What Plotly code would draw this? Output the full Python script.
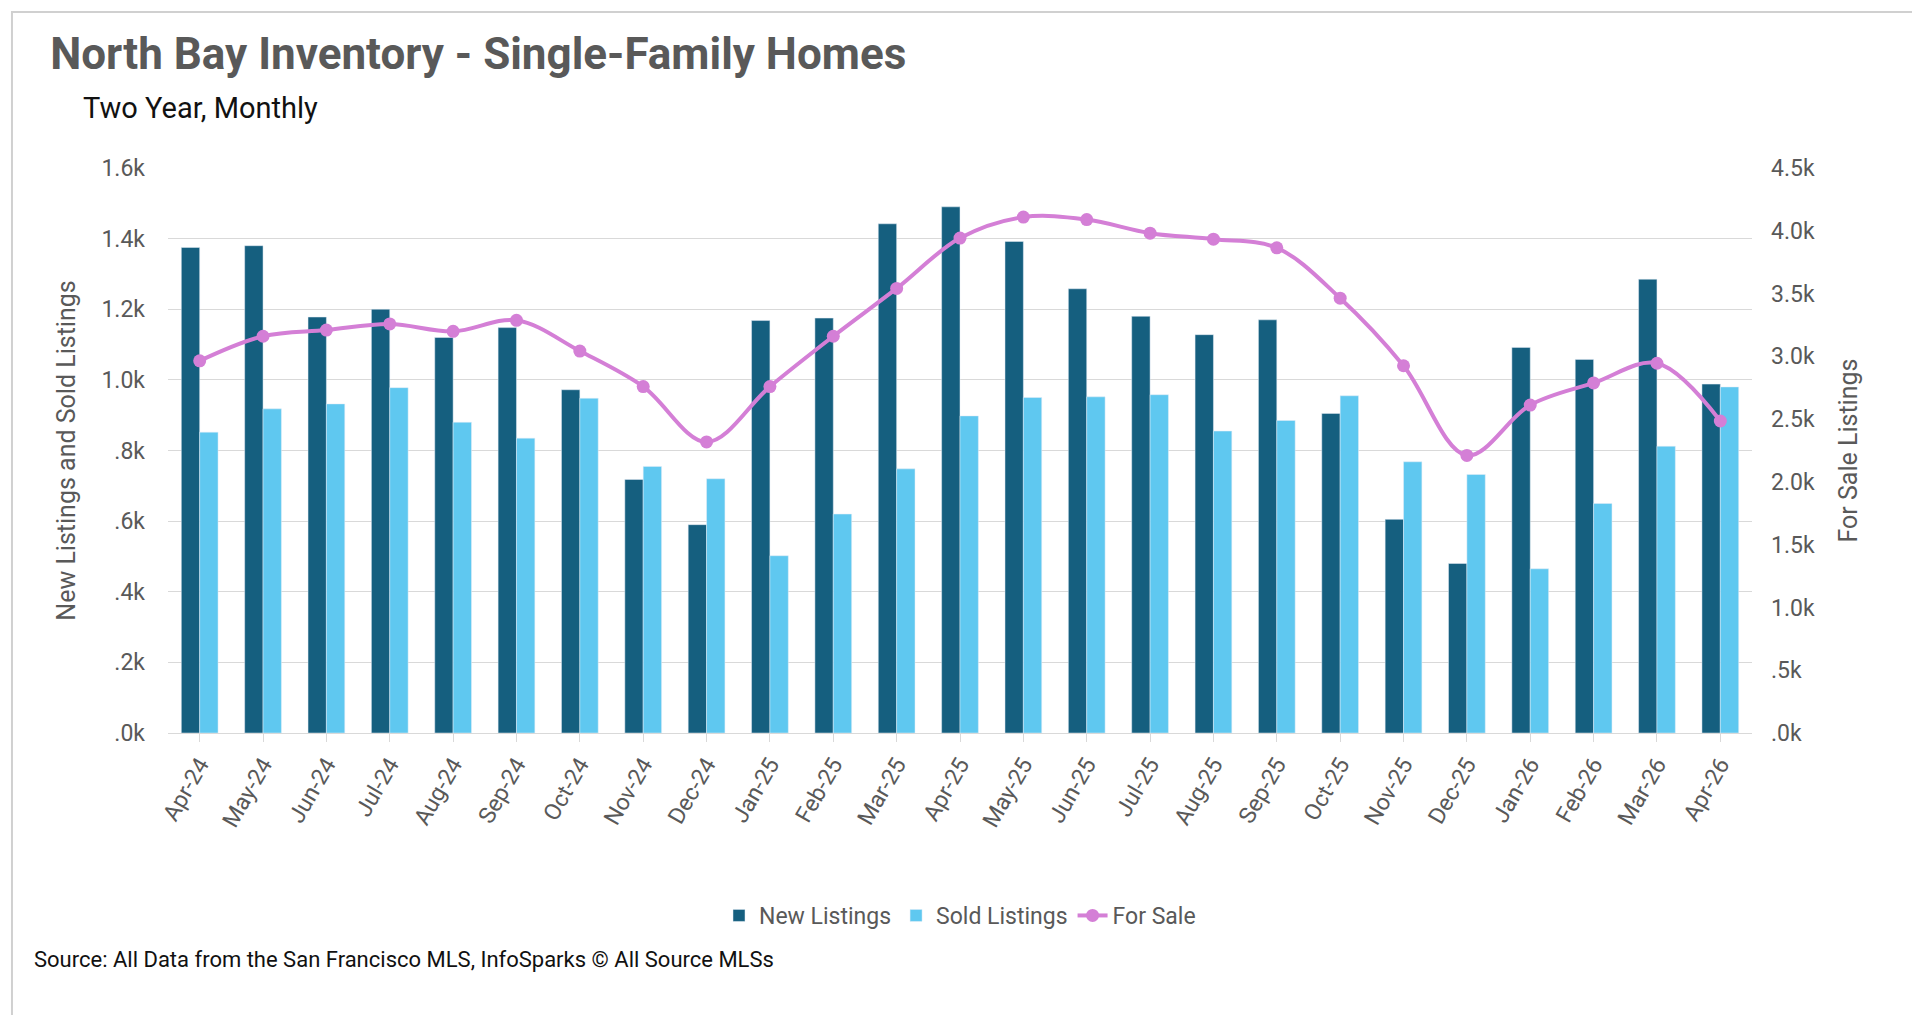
import plotly.graph_objects as go

months = ["Apr-24","May-24","Jun-24","Jul-24","Aug-24","Sep-24","Oct-24","Nov-24","Dec-24",
          "Jan-25","Feb-25","Mar-25","Apr-25","May-25","Jun-25","Jul-25","Aug-25","Sep-25",
          "Oct-25","Nov-25","Dec-25","Jan-26","Feb-26","Mar-26","Apr-26"]
new_listings = [1375,1380,1178,1200,1120,1148,972,718,590,1168,1175,1442,1490,1392,1258,1180,1128,1170,905,605,480,1092,1058,1285,988]
sold_listings = [852,918,932,978,880,835,948,755,720,502,620,748,898,950,952,958,855,885,955,768,732,465,650,812,980]
for_sale = [2964,3160,3209,3258,3199,3287,3042,2759,2318,2759,3160,3541,3942,4109,4089,3981,3933,3864,3463,2925,2211,2612,2788,2945,2485]
left_ticks = [0,200,400,600,800,1000,1200,1400,1600]
left_text = [".0k",".2k",".4k",".6k",".8k","1.0k","1.2k","1.4k","1.6k"]
right_ticks = [0,500,1000,1500,2000,2500,3000,3500,4000,4500]
right_text = [".0k",".5k","1.0k","1.5k","2.0k","2.5k","3.0k","3.5k","4.0k","4.5k"]

fig = go.Figure()
fig.add_bar(x=months, y=new_listings, name="New Listings", marker_color="#155f7f")
fig.add_bar(x=months, y=sold_listings, name="Sold Listings", marker_color="#5fc8f0")
fig.add_scatter(x=months, y=for_sale, name="For Sale", yaxis="y2", mode="lines+markers",
                line=dict(color="#d47fd6", width=4, shape="spline"), marker=dict(size=13, color="#d47fd6"))

font = "Roboto"
fig.update_layout(
    width=1920, height=1015, paper_bgcolor="white", plot_bgcolor="white",
    font=dict(family=font, color="#595959", size=22),
    margin=dict(l=160, r=176, t=160, b=290, autoexpand=False),
    bargap=0.42, bargroupgap=0,
    title=dict(text="<b>North Bay Inventory - Single-Family Homes</b>", x=0.022, xanchor="left",
               y=0.955, yanchor="middle", font=dict(size=44, color="#595959")),
    xaxis=dict(range=[-0.5, len(months)-0.5], tickangle=-60, tickfont=dict(size=23), showline=True,
               linecolor="#d9d9d9", ticks="outside", tickcolor="#d9d9d9", ticklen=8, automargin=False),
    yaxis=dict(range=[0,1600], tickvals=left_ticks, ticktext=left_text, gridcolor="#d9d9d9", automargin=False,
               ticklabelstandoff=22, tickfont=dict(size=23),
               title=dict(text="New Listings and Sold Listings", font=dict(size=25), standoff=18), zeroline=False),
    yaxis2=dict(range=[0,4500], tickvals=right_ticks, ticktext=right_text, overlaying="y", side="right",
                automargin=False, showgrid=False, ticklabelstandoff=18, tickfont=dict(size=23),
                title=dict(text="For Sale Listings", font=dict(size=25), standoff=25), zeroline=False),
    legend=dict(orientation="h", x=0.5, xanchor="center", y=-0.323, yanchor="middle", font=dict(size=23),
                traceorder="normal"),
    annotations=[
        dict(text="Two Year, Monthly", xref="paper", yref="paper", x=-0.055, y=1.106, xanchor="left",
             yanchor="middle", showarrow=False, font=dict(size=29, color="#111")),
        dict(text="Source: All Data from the San Francisco MLS, InfoSparks © All Source MLSs", xref="paper",
             yref="paper", x=-0.086, y=-0.40, xanchor="left", yanchor="middle", showarrow=False,
             font=dict(size=22, color="#111")),
    ],
    shapes=[dict(type="rect", xref="paper", yref="paper", x0=-0.0985, x1=1.1086, y0=-0.506, y1=1.276,
                 line=dict(color="#d0d0d0", width=2))],
)
fig.write_html("out.html")
